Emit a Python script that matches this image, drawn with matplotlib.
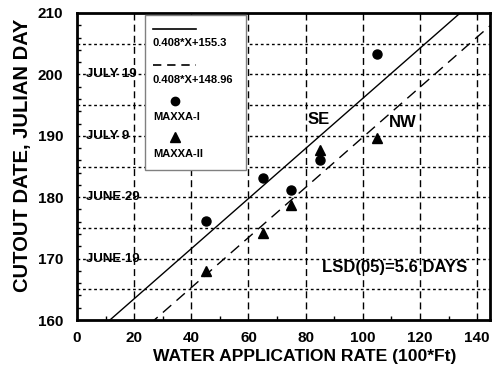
import matplotlib
matplotlib.use("Agg")
import matplotlib.pyplot as plt
from matplotlib.patches import Rectangle
from matplotlib.lines import Line2D
import numpy as np

plt.rcParams['font.family'] = ['Liberation Sans', 'DejaVu Sans']
plt.rcParams['font.weight'] = 'bold'

# data
water = [45, 65, 75, 85, 105]
maxxa1 = [176.1, 183.1, 181.1, 186.1, 203.4]
maxxa2 = [167.9, 174.1, 178.8, 187.7, 189.6]
slope = 0.408
icpt_se = 155.3
icpt_nw = 148.96
date_vals = [200, 190, 180, 170]
date_labels = ["JULY 19", "JULY 9", "JUNE 29", "JUNE 19"]

fig = plt.figure(figsize=(4.92, 3.71), dpi=100)
ax = fig.add_axes([77/492, 1-320/371, 413/492, 307/371])
ax.set_xlim(0, 144.5)
ax.set_ylim(160, 210)

# grid
for gx in range(20, 141, 20):
    ax.axvline(gx, color='black', lw=1, ls=(0, (5, 3)), zorder=1)
for gy in range(165, 210, 5):
    ax.axhline(gy, color='black', lw=1, ls=(0, (2, 2)), zorder=1)

# regression lines
xx = np.array([0, 145])
ax.plot(xx, slope*xx + icpt_se, color='black', lw=1, zorder=3)
ax.plot(xx, slope*xx + icpt_nw, color='black', lw=1, ls=(0, (8, 5)), zorder=3)

ax.plot(water, maxxa1, 'o', color='black', ms=6.5, zorder=4)
ax.plot(water, maxxa2, '^', color='black', ms=7, zorder=4)

# date labels inside plot
for v, lab in zip(date_vals, date_labels):
    ax.text(3.3, v, lab, fontsize=9.5, va='center', ha='left', zorder=5)

ax.text(84.5, 192.6, "SE", fontsize=12, ha='center', va='center', zorder=5)
ax.text(113.8, 192.1, "NW", fontsize=12, ha='center', va='center', zorder=5)
ax.text(111, 168.5, "LSD(05)=5.6 DAYS", fontsize=12, ha='center', va='center', zorder=5)

# legend drawn by hand: handle above label
ax.add_patch(Rectangle((0.165, 0.489), 0.244, 0.504, transform=ax.transAxes,
                       facecolor='white', edgecolor='gray', lw=1, zorder=6))
ax.add_line(Line2D([0.184, 0.288], [0.948, 0.948], transform=ax.transAxes,
                   color='black', lw=1.2, zorder=7))
ax.add_line(Line2D([0.184, 0.288], [0.831, 0.831], transform=ax.transAxes,
                   color='black', lw=1.2, ls=(0, (5, 3.5)), zorder=7))
ax.add_line(Line2D([0.237], [0.714], transform=ax.transAxes, marker='o',
                   color='black', ms=6, zorder=7))
ax.add_line(Line2D([0.237], [0.597], transform=ax.transAxes, marker='^',
                   color='black', ms=6.5, zorder=7))
leg_txt = [("0.408*X+155.3", 0.902), ("0.408*X+148.96", 0.782),
           ("MAXXA-I", 0.661), ("MAXXA-II", 0.541)]
for t, y in leg_txt:
    ax.text(0.184, y, t, fontsize=8, transform=ax.transAxes, ha='left',
            va='center', zorder=7)

# ticks and frame
ax.set_xticks(range(0, 141, 20))
ax.set_yticks(range(160, 211, 10))
ax.set_xticks(range(10, 141, 20), minor=True)
ax.set_yticks([v for v in range(162, 210, 2) if v % 10 != 0], minor=True)
ax.tick_params(which='both', direction='in', labelsize=11)
ax.tick_params(which='major', length=0)
ax.tick_params(which='minor', length=3, width=1)
ax.tick_params(axis='x', pad=8)
ax.tick_params(axis='y', pad=10)
for lab in ax.get_xticklabels() + ax.get_yticklabels():
    lab.set_fontweight('bold')
for sp in ax.spines.values():
    sp.set_linewidth(2)

ax.set_xlabel("WATER APPLICATION RATE (100*Ft)", fontsize=12.6, fontweight='bold')
ax.xaxis.set_label_coords(0.552, -0.12)
ax.xaxis.label.set_va('center')
ax.set_ylabel("CUTOUT DATE, JULIAN DAY", fontsize=14.5, fontweight='bold')
ax.yaxis.set_label_coords(-0.131, 0.537)
ax.yaxis.label.set_va('center')

fig.savefig("out.png", dpi=100)
